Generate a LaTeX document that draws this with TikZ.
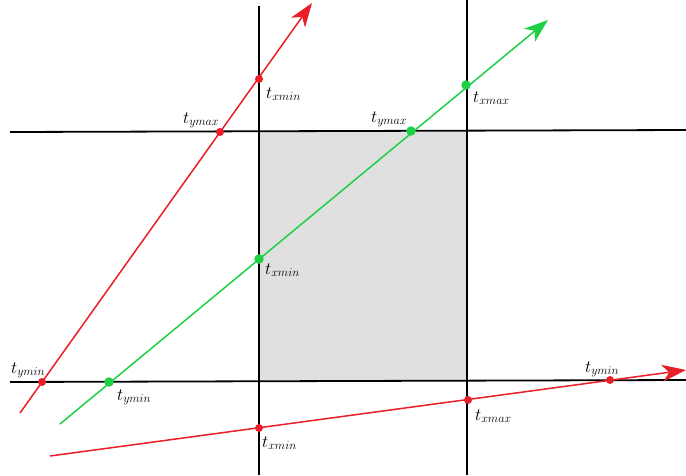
\documentclass[tikz,border=0pt]{standalone}
\usetikzlibrary{arrows.meta}
\definecolor{myred}{RGB}{234,30,40}
\definecolor{mygreen}{RGB}{30,208,70}
\definecolor{boxgray}{RGB}{224,224,224}
\tikzset{
  axisline/.style={black, line width=1.8pt},
  rayred/.style={myred, line width=1.5pt},
  raygreen/.style={mygreen, line width=1.5pt},
  tip/.style={-{Stealth[length=24pt,width=17pt,inset=7pt]}},
  dotred/.style={circle, fill=myred, inner sep=0pt, minimum size=8pt},
  dotgreen/.style={circle, fill=mygreen, inner sep=0pt, minimum size=9.5pt},
  lab/.style={anchor=base west, inner sep=0pt, font=\fontsize{17.5}{20}\selectfont},
}
\begin{document}
\begin{tikzpicture}[x=1pt,y=-1pt]
\useasboundingbox (0,0) rectangle (686,475);
% box
\fill[boxgray] (259,131) rectangle (467,381);
% black lines
\coordinate (h1a) at (10,132); \coordinate (h1b) at (686,130);
\coordinate (h2a) at (10,382); \coordinate (h2b) at (686,380);
\coordinate (v1a) at (259,6); \coordinate (v1b) at (259,475);
\coordinate (v2a) at (467,0); \coordinate (v2b) at (467,475);
\draw[axisline] (h1a) -- (h1b);
\draw[axisline] (h2a) -- (h2b);
\draw[axisline] (v1a) -- (v1b);
\draw[axisline] (v2a) -- (v2b);
% rays
\coordinate (r1s) at (20,413); \coordinate (r1e) at (312,3);
\coordinate (gs) at (60,424); \coordinate (ge) at (548,20);
\coordinate (r2s) at (50,456); \coordinate (r2e) at (686,370);
\draw[rayred, tip] (r1s) -- (r1e);
\draw[raygreen, tip] (gs) -- (ge);
\draw[rayred, tip] (r2s) -- (r2e);
% points
\node[dotred] (a1) at (42,382) {};
\node[dotred] (a2) at (220,132) {};
\node[dotred] (a3) at (259,79) {};
\node[dotgreen] (g1) at (109,382) {};
\node[dotgreen] (g2) at (259,259) {};
\node[dotgreen] (g3) at (411,131) {};
\node[dotgreen] (g4) at (466,85) {};
\node[dotred] (b1) at (259,428) {};
\node[dotred] (b2) at (468,400) {};
\node[dotred] (b3) at (610,380) {};
% labels
\node[lab] (la1) at (11,373) {$t_{ymin}$};
\node[lab] (la2) at (183,123) {$t_{ymax}$};
\node[lab] (la3) at (266,98) {$t_{xmin}$};
\node[lab] (lg1) at (117,400) {$t_{ymin}$};
\node[lab] (lg2) at (265,274) {$t_{xmin}$};
\node[lab] (lg3) at (371,122) {$t_{ymax}$};
\node[lab] (lg4) at (473,102) {$t_{xmax}$};
\node[lab] (lb1) at (262,447) {$t_{xmin}$};
\node[lab] (lb2) at (475,420) {$t_{xmax}$};
\node[lab] (lb3) at (585,372) {$t_{ymin}$};
\end{tikzpicture}
\end{document}
